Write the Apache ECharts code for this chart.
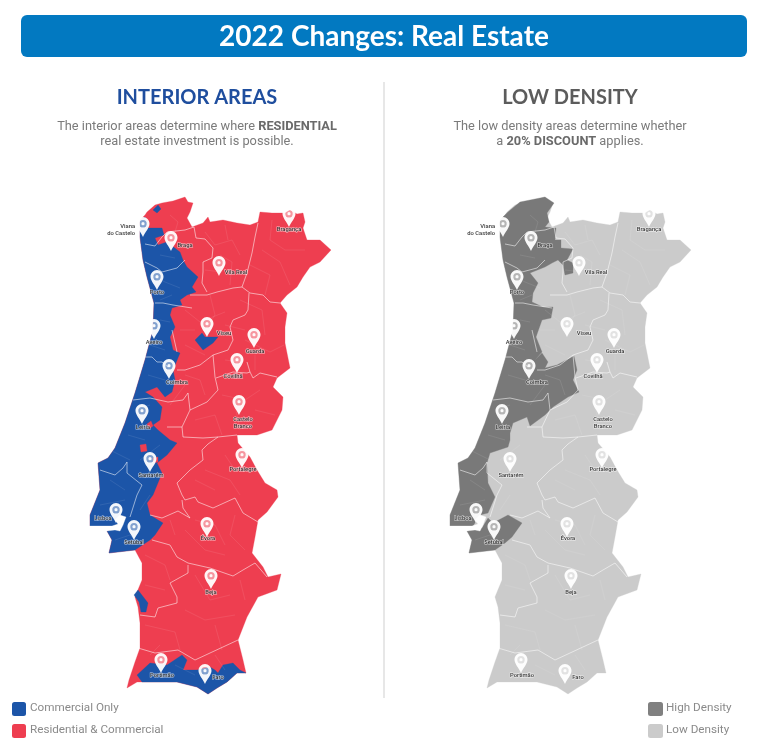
<!DOCTYPE html>
<html>
<head>
<meta charset="utf-8">
<title>2022 Changes: Real Estate</title>
<script src="https://cdn.jsdelivr.net/npm/echarts@6/dist/echarts.min.js"></script>
<style>
html, body { margin: 0; padding: 0; background: #fff; }
#main { width: 768px; height: 748px; }
</style>
</head>
<body>
<div id="main"></div>
<script>
var northEastBorder = [[140,220],[145,215],[147,212],[155,205],[162,203],[173,201],[185,197],[188,202],[193,203],[190,212],[187,218],[192,227],[203,223],[208,217],[210,222],[223,220],[237,223],[250,225],[258,222],[260,212],[272,213],[285,213],[290,210],[297,214],[303,213],[305,222],[303,228],[307,240],[320,240],[331,250],[320,262],[310,267],[303,277],[297,287],[287,295],[280,303],[287,313],[285,327],[285,343],[290,368],[277,378],[273,387],[283,397],[282,410],[272,430],[257,435],[237,435],[238,443],[250,457],[257,470],[265,483],[277,490],[278,497],[267,512],[258,520],[255,537],[252,553],[263,567],[268,577],[281,574],[277,590],[258,597],[247,617],[238,640],[243,660],[246,673]];
var southCoast = [[237,673],[227,682],[217,688],[208,694],[197,687],[177,682],[157,682],[137,682],[127,688],[129,680],[135,662],[140,648],[140,623],[138,607],[135,597],[142,580],[142,563],[135,550]];
var setubalCoast = [[109,553],[112,540],[107,531],[115,528]];
var westCoast = [[90,526],[90,515],[100,490],[98,463],[108,458],[115,448],[125,423],[135,393],[145,360],[153,330],[154,303],[147,277],[143,260],[140,237],[140,220]];

// blue / red split, north to south
var commercialBorder = [[140,220],[145,217],[147,222],[148,228],[162,228],[164,235],[155,238],[158,245],[167,242],[180,252],[183,260],[187,267],[198,277],[192,287],[196,292],[187,295],[180,300],[182,305],[172,308],[170,315],[175,327],[170,337],[173,350],[180,353],[173,370],[175,380],[172,392],[165,397],[157,387],[145,392],[153,397],[162,407],[160,420],[153,425],[158,430],[170,440],[177,443],[167,455],[157,463],[162,473],[153,495],[147,503],[150,515],[163,523],[155,535],[150,540],[135,550]];
var minhoSpot = [[153,210],[158,205],[161,209],[157,213]];
var viseuPatch = [[195,340],[202,333],[205,337],[218,337],[213,343],[203,350]];
var grandolaPatch = [[134,595],[138,590],[148,603],[146,612],[141,612],[139,602]];
var algarvePatch = [[137,675],[150,663],[167,665],[182,655],[187,660],[183,670],[197,670],[210,667],[215,670],[218,673],[223,665],[233,663],[240,670],[246,673],[237,673],[227,682],[217,688],[208,694],[197,687],[177,682],[157,682],[142,682]];
var redSpotTomar = [[140,445],[146,444],[147,451],[141,452]];
var redSpotSantarem = [[153,458],[158,457],[158,462],[154,463]];
var redSpotLeiria = [[147,424],[151,421],[153,426],[149,429]];

// grey map: densely populated parts
var highDensityBorder = [[140,220],[148,212],[160,202],[185,197],[194,203],[187,213],[189,222],[185,227],[196,228],[195,240],[201,240],[201,248],[213,249],[207,260],[213,263],[213,273],[205,275],[203,265],[198,260],[192,263],[185,267],[170,273],[178,283],[173,293],[172,302],[183,307],[193,307],[191,318],[182,320],[176,337],[182,352],[175,360],[182,353],[188,362],[185,368],[197,365],[214,356],[217,370],[213,380],[219,392],[208,397],[193,407],[185,415],[170,426],[167,417],[153,423],[150,433],[150,440],[148,447],[130,453],[127,463],[128,483],[135,497],[128,513],[120,515],[113,526]];
var setubalPatch = [[107,531],[115,528],[122,528],[128,518],[133,523],[148,515],[162,523],[152,537],[145,543],[135,550],[109,553],[112,540]];
var tagusEstuary = [[115,520],[120,515],[126,517],[123,525],[120,531],[115,530],[106,531],[90,529],[88,526],[112,526],[118,524]];

// district borders, the pale lines across both maps
var districtBorders = [
    [[145,244],[155,246],[162,237],[167,232],[185,230],[194,227]],
    [[194,227],[196,238],[205,239],[213,248],[212,258],[203,262],[203,272],[202,283],[207,292]],
    [[145,262],[157,268],[162,272],[177,268],[185,260]],
    [[258,223],[255,237],[252,253],[247,273],[242,287],[233,288],[217,292],[207,295],[190,295]],
    [[242,287],[250,293],[263,295],[270,302],[280,303]],
    [[249,293],[248,310],[245,315],[233,320],[230,327],[233,340],[228,350],[213,355],[200,365],[185,370],[177,370]],
    [[155,303],[163,303],[173,305],[192,308]],
    [[172,330],[177,352]],
    [[145,357],[152,357],[157,362],[162,362],[168,367]],
    [[213,355],[215,377],[218,390],[207,402],[190,410],[188,393],[183,400],[168,402],[150,398],[133,400]],
    [[216,378],[233,372],[247,373],[250,372],[253,378],[260,373],[277,377]],
    [[247,362],[250,372]],
    [[167,427],[182,427],[183,437],[203,438],[218,437],[237,435]],
    [[190,410],[182,427]],
    [[202,450],[203,460],[190,470],[177,483],[182,495],[185,500],[195,497],[198,502],[213,508],[235,498],[243,513],[258,522]],
    [[218,437],[208,444],[202,450]],
    [[182,500],[183,508],[190,518],[178,511],[162,518],[150,515]],
    [[127,462],[127,473],[142,485],[137,495],[130,517]],
    [[100,470],[115,475],[123,468],[127,462]],
    [[152,540],[170,545],[177,557],[188,563],[210,568],[233,576],[243,570],[255,563],[267,577]],
    [[188,565],[188,573],[170,583],[177,597],[177,603],[158,608],[155,617],[140,615]],
    [[138,648],[155,653],[178,650],[195,660],[210,653],[238,640]]
];

// rough municipal lines, the faint mesh inside the districts
var municipalBorders = [
    [[170,215],[178,222],[175,232]], [[205,232],[215,245],[232,240],[240,255]], [[225,225],[228,240]], [[272,220],[270,240],[285,250],[305,250]],
    [[262,250],[280,262],[290,285]], [[250,265],[270,275],[265,295]], [[220,255],[232,262],[230,285]], [[205,270],[222,272]],
    [[160,255],[175,258]], [[150,275],[165,282],[180,288]], [[160,300],[172,295]], [[185,310],[200,322],[225,312]],
    [[210,295],[215,315],[205,330]], [[180,330],[195,330]], [[185,345],[205,355]], [[225,325],[245,330]],
    [[240,300],[262,310],[265,335]], [[245,340],[270,352],[284,345]], [[255,355],[255,370]], [[225,360],[240,362]],
    [[160,320],[170,322]], [[150,345],[165,350]], [[148,375],[165,380]], [[185,375],[200,380],[205,395]],
    [[170,405],[185,385]], [[222,395],[245,400],[260,390]], [[235,405],[240,430]], [[255,410],[275,415]],
    [[195,420],[215,415],[222,435]], [[135,410],[150,405]], [[128,435],[145,440]], [[110,450],[130,460]],
    [[110,480],[125,490]], [[100,505],[125,500]], [[140,460],[160,445]], [[140,510],[150,495]],
    [[115,540],[130,535],[140,545]], [[205,470],[230,480],[240,495]], [[225,455],[235,470]], [[195,480],[215,490]],
    [[195,520],[215,525],[225,545]], [[235,515],[230,535],[245,550]], [[185,530],[205,550],[225,555]], [[170,520],[175,535]],
    [[145,555],[165,565],[170,580]], [[145,585],[165,590]], [[195,575],[210,600],[230,595]], [[240,580],[245,600]],
    [[185,610],[205,620],[235,615]], [[145,625],[175,632],[180,650]], [[215,625],[222,650]], [[150,655],[160,645]],
    [[175,665],[195,675]], [[215,655],[225,670]]
];

// cities: where the pin tip sits, and where the name sits relative to it
var cityNames = ['Viana\ndo Castelo', 'Braga', 'Vila Real', 'Bragança', 'Porto', 'Viseu', 'Guarda', 'Aveiro', 'Covilhã', 'Coimbra', 'Castelo\nBranco', 'Leiria', 'Santarém', 'Portalegre', 'Lisboa', 'Setúbal', 'Évora', 'Beja', 'Portimão', 'Faro'];
var cityTips = [[143,237],[171,251],[219,276],[289,227],[157,290],[207,337],[254,348],[154,339],[237,373],[169,379],[239,415],[142,424],[150,472],[242,468],[116,523],[134,540],[207,537],[211,589],[161,673],[205,684]];
var cityLabelOffsets = [[-8,-7],[14,-5],[17,-3],[0,3],[0,3],[17,-3],[1,4],[0,4],[-4,4],[8,4],[4,8],[1,4],[1,4],[1,2],[-13,-4],[0,3],[1,2],[0,4],[1,3],[13,-6]];

var colorCommercial = '#1c55a8';
var colorResidential = '#ee3e50';
var colorHigh = '#797979';
var colorLow = '#cbcbcb';

var interiorRegions = [
    { name: 'Portugal', color: colorResidential, shape: northEastBorder.concat(southCoast, setubalCoast, westCoast) },
    { name: 'Commercial', color: colorCommercial, shape: commercialBorder.concat(setubalCoast, westCoast) },
    { name: 'Minho spot', color: colorCommercial, shape: minhoSpot },
    { name: 'Viseu', color: colorCommercial, shape: viseuPatch },
    { name: 'Grandola', color: colorCommercial, shape: grandolaPatch },
    { name: 'Algarve', color: colorCommercial, shape: algarvePatch },
    { name: 'Tomar', color: colorResidential, shape: redSpotTomar },
    { name: 'Santarem', color: colorResidential, shape: redSpotSantarem },
    { name: 'Leiria', color: colorResidential, shape: redSpotLeiria },
    { name: 'Tagus', color: '#ffffff', shape: tagusEstuary }
];
var densityRegions = [
    { name: 'Portugal', color: colorLow, shape: northEastBorder.concat(southCoast, setubalCoast, westCoast) },
    { name: 'Dense north', color: colorHigh, shape: highDensityBorder.concat(westCoast) },
    { name: 'Setubal', color: colorHigh, shape: setubalPatch },
    { name: 'Tagus', color: '#ffffff', shape: tagusEstuary }
];

var legendLeftNames = ['Commercial Only', 'Residential & Commercial'];
var legendRightNames = ['High Density', 'Low Density'];

var pinPath = 'path://M10 0C4.5 0 0 4.5 0 10C0 16 7 23 10 30C13 23 20 16 20 10C20 4.5 15.5 0 10 0Z' +
    'M10 4.5A5.5 5.5 0 1 1 10 15.5A5.5 5.5 0 1 1 10 4.5Z' +
    'M10 7.5A2.5 2.5 0 1 0 10 12.5A2.5 2.5 0 1 0 10 7.5Z';

function registerRegions(mapName, regions) {
    echarts.registerMap(mapName, {
        type: 'FeatureCollection',
        features: regions.map(function (r) {
            return {
                type: 'Feature',
                properties: { name: r.name },
                geometry: { type: 'Polygon', coordinates: [r.shape.concat([r.shape[0]])] }
            };
        })
    });
}
registerRegions('interior', interiorRegions);
registerRegions('density', densityRegions);

function geoOption(mapName, regions, left) {
    return {
        map: mapName,
        left: left,
        top: 0,
        width: 360,
        height: 748,
        silent: true,
        roam: false,
        boundingCoords: [[0, 0], [360, 748]],
        projection: {
            project: function (p) { return p; },
            unproject: function (p) { return p; }
        },
        label: { show: false },
        itemStyle: { borderWidth: 0, areaColor: colorLow },
        regions: regions.map(function (r) {
            return { name: r.name, silent: true, itemStyle: { areaColor: r.color, borderColor: r.color, borderWidth: 0.3 } };
        })
    };
}

function borderLines(geoIndex, borders, width, opacity) {
    return {
        type: 'lines',
        coordinateSystem: 'geo',
        geoIndex: geoIndex,
        polyline: true,
        silent: true,
        lineStyle: { color: '#ffffff', width: width, opacity: opacity },
        data: borders.map(function (b) { return { coords: b }; })
    };
}

function mapSeries(geoIndex) {
    return [
        borderLines(geoIndex, municipalBorders, 0.5, 0.18),
        borderLines(geoIndex, districtBorders, 0.9, 0.6),
        {
            type: 'scatter',
            coordinateSystem: 'geo',
            geoIndex: geoIndex,
            silent: true,
            symbol: pinPath,
            symbolSize: [13, 20],
            symbolOffset: [0, -10],
            itemStyle: { color: '#ffffff', opacity: 0.95 },
            data: cityTips,
            z: 3
        },
        {
            // softens the ring in the pin head
            type: 'scatter',
            coordinateSystem: 'geo',
            geoIndex: geoIndex,
            silent: true,
            symbol: 'circle',
            symbolSize: 7.5,
            symbolOffset: [0, -13.5],
            itemStyle: { color: '#ffffff', opacity: 0.45 },
            data: cityTips,
            z: 3
        },
        {
            type: 'scatter',
            coordinateSystem: 'geo',
            geoIndex: geoIndex,
            silent: true,
            symbolSize: 1,
            itemStyle: { color: 'rgba(0,0,0,0)' },
            z: 4,
            data: cityTips.map(function (c, i) {
                return {
                    name: cityNames[i],
                    value: c,
                    label: {
                        offset: cityLabelOffsets[i],
                        align: i === 0 ? 'right' : 'center'
                    }
                };
            }),
            label: {
                show: true,
                position: 'inside',
                formatter: '{b}',
                fontFamily: 'Roboto',
                fontSize: 5.8,
                fontWeight: 500,
                lineHeight: 7,
                color: '#000000',
                textBorderColor: 'rgba(255,255,255,0.85)',
                textBorderWidth: 1.1
            }
        }
    ];
}

function legendGraphics(names, colors, boxX, textX) {
    var out = [];
    names.forEach(function (name, i) {
        var y = 702 + i * 22;
        out.push({ type: 'rect', shape: { x: boxX, y: y, width: boxX > 384 ? 15 : 14, height: 14, r: 2.5 }, style: { fill: colors[i] } });
        out.push({
            type: 'text',
            style: {
                text: name, x: textX, y: y + 6.5, verticalAlign: 'middle',
                font: '400 11.7px Roboto', fill: '#8a8a8a'
            }
        });
    });
    return out;
}

function centerText(text, x, y, font, fill, rich) {
    return {
        type: 'text',
        style: { text: text, x: x, y: y, align: 'center', verticalAlign: 'middle', font: font, fill: fill, rich: rich }
    };
}

var introRich = {
    n: { font: '400 12.8px Roboto', fill: '#7b7b7b' },
    b: { font: '700 12.8px Roboto', fill: '#6a6a6a' }
};

var dom = document.getElementById('main');
var myChart = echarts.init(dom);
var option = {
    backgroundColor: '#ffffff',
    animation: false,
    tooltip: { show: false },
    geo: [
        geoOption('interior', interiorRegions, 0),
        geoOption('density', densityRegions, 360)
    ],
    series: mapSeries(0).concat(mapSeries(1)),
    graphic: {
        elements: [
            { type: 'rect', shape: { x: 21, y: 15, width: 726, height: 42, r: 6 }, style: { fill: '#0279c1' } },
            centerText('2022 Changes: Real Estate', 384, 37, '700 28px Lato', '#ffffff'),
            { type: 'rect', shape: { x: 383.5, y: 82, width: 1, height: 616 }, style: { fill: '#d0d0d0' } },
            centerText('INTERIOR AREAS', 197, 98, '700 20px Lato', '#1f4e9e'),
            centerText('LOW DENSITY', 570, 98, '700 20px Lato', '#5c5c5c'),
            centerText('{n|The interior areas determine where }{b|RESIDENTIAL}', 197, 127, '400 12.8px Roboto', '#7b7b7b', introRich),
            centerText('{n|real estate investment is possible.}', 197, 142, '400 12.8px Roboto', '#7b7b7b', introRich),
            centerText('{n|The low density areas determine whether}', 570, 127, '400 12.8px Roboto', '#7b7b7b', introRich),
            centerText('{n|a }{b|20% DISCOUNT}{n| applies.}', 570, 142, '400 12.8px Roboto', '#7b7b7b', introRich)
        ].concat(
            legendGraphics(legendLeftNames, [colorCommercial, colorResidential], 12, 30),
            legendGraphics(legendRightNames, ['#808080', colorLow], 648, 666)
        )
    }
};
myChart.setOption(option);
</script>
</body>
</html>
